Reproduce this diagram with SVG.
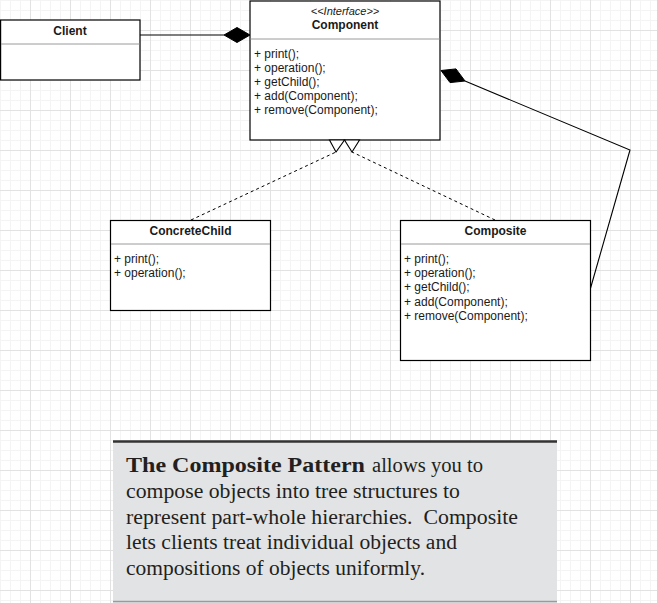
<svg xmlns="http://www.w3.org/2000/svg" width="657" height="603" viewBox="0 0 657 603">
<defs>
<pattern id="grid" x="30" y="30" width="40" height="40" patternUnits="userSpaceOnUse">
<path d="M10.5 0V40M20.5 0V40M30.5 0V40M0 10.5H40M0 20.5H40M0 30.5H40" stroke="#f4f4f4" stroke-width="1" fill="none"/>
<path d="M0.5 0V40M0 0.5H40" stroke="#e2e2e2" stroke-width="1" fill="none"/>
</pattern>
<style>
.box{fill:#fff;stroke:#000;stroke-width:1.2}
.sep{stroke:#9a9a9a;stroke-width:1}
.title{font-family:"Liberation Sans",Arial,sans-serif;font-size:12px;font-weight:bold;fill:#1a1a1a;text-anchor:middle}
.stereo{font-family:"Liberation Sans",Arial,sans-serif;font-size:11px;font-style:italic;fill:#1a1a1a;text-anchor:middle}
.m{font-family:"Liberation Sans",Arial,sans-serif;font-size:12px;fill:#1a1a1a}
.edge{fill:none;stroke:#000;stroke-width:1.1}
.dash{fill:none;stroke:#000;stroke-width:1;stroke-dasharray:3 3}
.note{font-family:"Liberation Serif","Times New Roman",serif;font-size:20.5px;fill:#231f20;white-space:pre}
</style>
</defs>
<rect width="657" height="603" fill="#fff"/>
<rect width="657" height="603" fill="url(#grid)"/>

<g id="connectors">
<line class="edge" x1="140" y1="35" x2="224" y2="35"/>
<polygon points="224,35 237,27.5 250,35 237,42.5" fill="#000" stroke="#000"/>
<polyline class="edge" points="590,290 630,150 465,81"/>
<polygon points="441,70.5 456,68.9 465,81 450,82.6" fill="#000" stroke="#000"/>
<line class="dash" x1="191" y1="220" x2="336" y2="152"/>
<line class="dash" x1="495" y1="220" x2="352" y2="152"/>
</g>

<g id="client">
<rect class="box" x="0.6" y="20" width="139.4" height="60"/>
<line class="sep" x1="1" y1="44" x2="139.5" y2="44"/>
<text class="title" x="70" y="35">Client</text>
</g>

<g id="component">
<rect class="box" x="250" y="1" width="190" height="139"/>
<line class="sep" x1="250.5" y1="39" x2="439.5" y2="39"/>
<text class="stereo" x="345" y="15">&lt;&lt;Interface&gt;&gt;</text>
<text class="title" x="345" y="29">Component</text>
<text class="m" x="254" y="57.5">+ print();</text>
<text class="m" x="254" y="71.5">+ operation();</text>
<text class="m" x="254" y="85.5">+ getChild();</text>
<text class="m" x="254" y="99.5">+ add(Component);</text>
<text class="m" x="254" y="113.5">+ remove(Component);</text>
<polygon points="329.5,140 344.5,140 336,152" fill="#fff" stroke="#000" stroke-width="1.1"/>
<polygon points="344.5,140 359.5,140 352,152" fill="#fff" stroke="#000" stroke-width="1.1"/>
</g>

<g id="concretechild">
<rect class="box" x="110.5" y="220.5" width="160" height="90"/>
<line class="sep" x1="111" y1="244" x2="270" y2="244"/>
<text class="title" x="190.5" y="234.5">ConcreteChild</text>
<text class="m" x="114" y="262.5">+ print();</text>
<text class="m" x="114" y="277">+ operation();</text>
</g>

<g id="composite">
<rect class="box" x="400.5" y="220.5" width="190" height="140"/>
<line class="sep" x1="401" y1="244" x2="590" y2="244"/>
<text class="title" x="495.5" y="235">Composite</text>
<text class="m" x="404" y="262.5">+ print();</text>
<text class="m" x="404" y="276.9">+ operation();</text>
<text class="m" x="404" y="291.3">+ getChild();</text>
<text class="m" x="404" y="305.7">+ add(Component);</text>
<text class="m" x="404" y="320.1">+ remove(Component);</text>
</g>

<g id="note">
<rect x="113" y="442" width="444" height="161" fill="#e2e3e5"/>
<line x1="113" y1="441.5" x2="557" y2="441.5" stroke="#333" stroke-width="2.5"/>
<line x1="113" y1="601.5" x2="557" y2="601.5" stroke="#9a9a9a" stroke-width="1.5"/>
<text class="note" x="126" y="472" font-weight="bold" textLength="239" lengthAdjust="spacingAndGlyphs">The Composite Pattern</text>
<text class="note" x="372" y="472" textLength="111" lengthAdjust="spacingAndGlyphs">allows you to</text>
<text class="note" x="126" y="497.8" textLength="334" lengthAdjust="spacingAndGlyphs">compose objects into tree structures to</text>
<text class="note" x="126" y="523.6" textLength="392" lengthAdjust="spacingAndGlyphs" xml:space="preserve">represent part-whole hierarchies.  Composite</text>
<text class="note" x="126" y="549.4" textLength="331" lengthAdjust="spacingAndGlyphs">lets clients treat individual objects and</text>
<text class="note" x="126" y="575.2" textLength="299" lengthAdjust="spacingAndGlyphs">compositions of objects uniformly.</text>
</g>
</svg>
